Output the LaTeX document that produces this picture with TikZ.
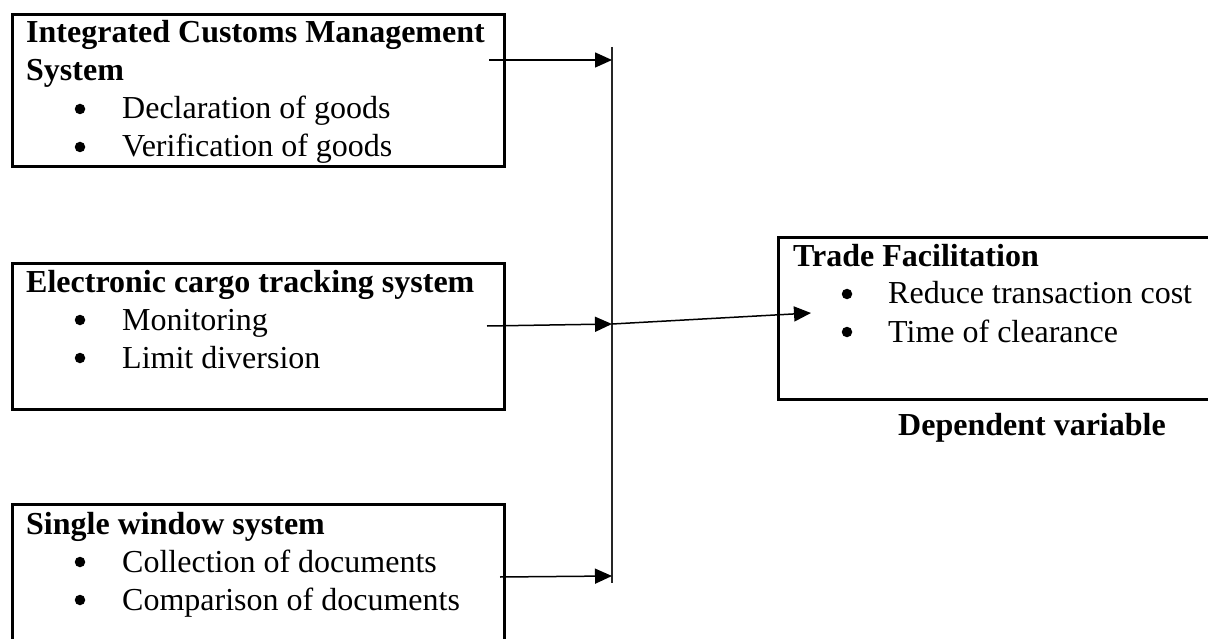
\documentclass[tikz,border=0pt]{standalone}
\usepackage{fontspec}
\setmainfont{Liberation Serif}
\usetikzlibrary{arrows.meta}
\begin{document}
\begin{tikzpicture}[x=1pt,y=-1pt,
  box/.style={draw, line width=2.7pt, inner sep=0pt, anchor=north west},
  head/.style={anchor=base west, inner sep=0pt, font=\bfseries\fontsize{32}{38}\selectfont},
  item/.style={anchor=base west, inner sep=0pt, font=\fontsize{32}{38}\selectfont},
  dot/.style={circle, fill=black, inner sep=0pt, minimum size=10.5pt, yshift=10pt},
  bus/.style={line width=1.5pt, draw=black!85},
  link/.style={line width=1.5pt, -{Triangle[length=17pt,width=15pt]}},
]
\useasboundingbox (0,0) rectangle (1208,639);
\clip (0,0) rectangle (1208,639);

% --- independent variable boxes ---
\node[box, minimum width=492pt, minimum height=152pt] (icms) at (11,13) {};
\node[head] (icmsT1) at (26,43) {Integrated Customs Management};
\node[head] (icmsT2) at (26,81) {System};
\node[dot] (icmsB1) at (80,119) {};
\node[item] (icmsI1) at (122,119) {Declaration of goods};
\node[dot] (icmsB2) at (80,157) {};
\node[item] (icmsI2) at (122,157) {Verification of goods};

\node[box, minimum width=492pt, minimum height=146pt] (ects) at (11,262) {};
\node[head] (ectsT) at (26,292) {Electronic cargo tracking system};
\node[dot] (ectsB1) at (80,330) {};
\node[item] (ectsI1) at (122,330) {Monitoring};
\node[dot] (ectsB2) at (80,368) {};
\node[item] (ectsI2) at (122,368) {Limit diversion};

\node[box, minimum width=492pt, minimum height=160pt] (sws) at (11,503) {};
\node[head] (swsT) at (26,534) {Single window system};
\node[dot] (swsB1) at (80,572) {};
\node[item] (swsI1) at (122,572) {Collection of documents};
\node[dot] (swsB2) at (80,610) {};
\node[item] (swsI2) at (122,610) {Comparison of documents};

% --- dependent variable box ---
\node[box, minimum width=445pt, minimum height=162pt] (tf) at (777,236) {};
\node[head] (tfT) at (793,266) {Trade Facilitation};
\node[dot] (tfB1) at (847,304) {};
\node[item] (tfI1) at (888,304) {Reduce transaction cost};
\node[dot] (tfB2) at (847,342) {};
\node[item] (tfI2) at (888,342) {Time of clearance};
\node[head] (dep) at (898,435) {Dependent variable};

% --- collecting bus and arrows ---
\coordinate (busTop) at (612,47);
\coordinate (busBot) at (612,583);
\draw[bus] (busTop) -- (busBot);

\coordinate (s1) at (489,60);
\coordinate (e1) at (612,60);
\coordinate (s2) at (487,326);
\coordinate (e2) at (612,324);
\coordinate (s3) at (500,577);
\coordinate (e3) at (612,576);
\coordinate (e4) at (811,313);

\draw[link] (s1) -- (e1);
\draw[link] (s2) -- (e2);
\draw[link] (s3) -- (e3);
\draw[link] (e2) -- (e4);
\end{tikzpicture}
\end{document}
